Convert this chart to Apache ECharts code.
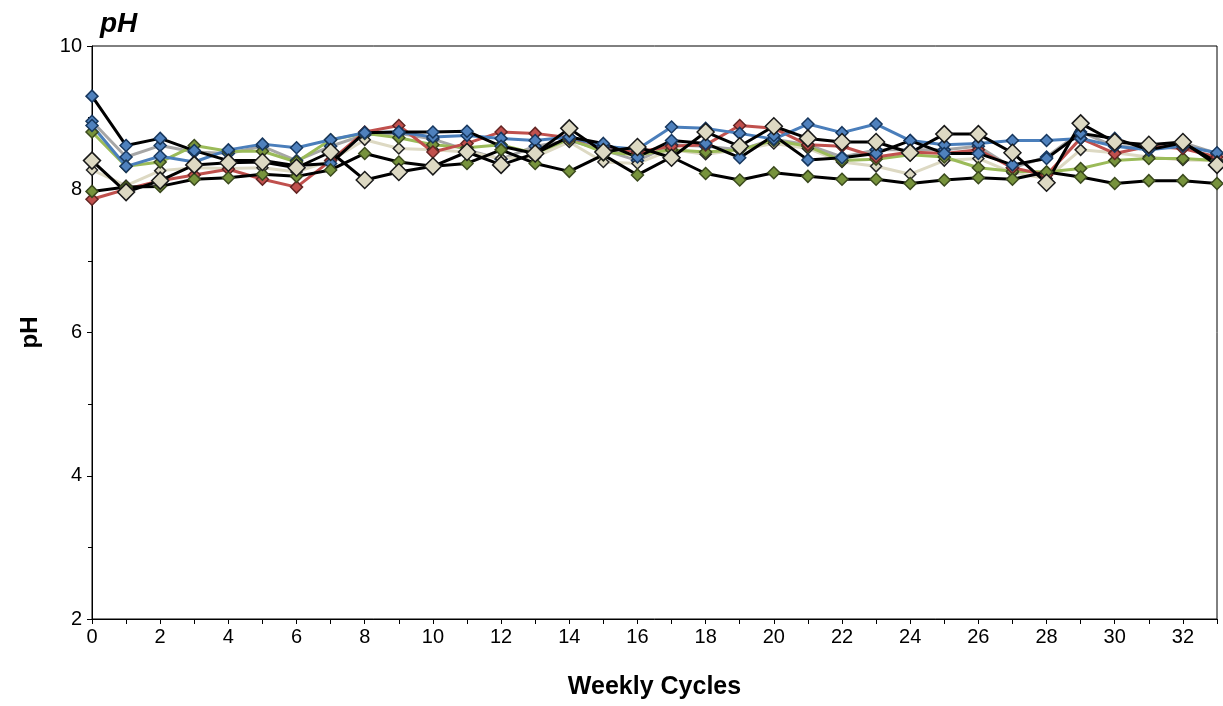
<!DOCTYPE html>
<html>
<head>
<meta charset="utf-8">
<script src="https://cdn.jsdelivr.net/npm/echarts@6/dist/echarts.min.js"></script>
<style>html,body{margin:0;padding:0;background:#fff}#c{width:1223px;height:706px}</style>
</head>
<body>
<div id="c"></div>
<script>
var weeks = [0,1,2,3,4,5,6,7,8,9,10,11,12,13,14,15,16,17,18,19,20,21,22,23,24,25,26,27,28,29,30,31,32,33];
var yTicks = [2,4,6,8,10];

var blueLine  = [8.89,8.32,8.46,8.38,8.55,8.63,8.58,8.69,8.79,8.80,8.73,8.75,8.71,8.68,8.73,8.60,8.56,8.87,8.85,8.78,8.70,8.91,8.79,8.91,8.68,8.62,8.64,8.68,8.68,8.71,8.60,8.55,8.60,8.51];
var redLine   = [7.86,8.00,8.12,8.20,8.28,8.14,8.03,8.40,8.80,8.89,8.52,8.64,8.80,8.78,8.72,8.60,8.52,8.60,8.62,8.89,8.85,8.62,8.60,8.45,8.52,8.50,8.55,8.30,8.20,8.71,8.50,8.60,8.57,8.45];
var greenLine = [8.80,8.32,8.38,8.61,8.53,8.53,8.38,8.69,8.78,8.72,8.62,8.58,8.62,8.50,8.70,8.52,8.48,8.55,8.52,8.55,8.68,8.60,8.40,8.42,8.48,8.45,8.30,8.25,8.24,8.29,8.40,8.43,8.43,8.40];
var greyLine  = [8.95,8.45,8.61,8.52,8.50,8.60,8.40,8.60,8.76,8.78,8.70,8.55,8.42,8.60,8.68,8.55,8.40,8.62,8.60,8.55,8.70,8.62,8.45,8.55,8.55,8.55,8.60,8.30,8.45,8.80,8.60,8.58,8.65,8.50];
var beigeLine = [8.27,8.05,8.26,8.30,8.29,8.30,8.24,8.40,8.69,8.57,8.55,8.52,8.43,8.45,8.66,8.38,8.36,8.55,8.49,8.55,8.64,8.57,8.38,8.32,8.21,8.40,8.43,8.23,8.15,8.55,8.51,8.45,8.41,8.40];
var blackBlue  = [9.30,8.61,8.71,8.54,8.40,8.40,8.33,8.36,8.79,8.80,8.80,8.81,8.60,8.50,8.73,8.64,8.45,8.68,8.64,8.44,8.75,8.41,8.44,8.50,8.68,8.50,8.50,8.34,8.43,8.78,8.71,8.55,8.65,8.38];
var blackGreen = [7.97,8.03,8.04,8.14,8.16,8.21,8.18,8.27,8.50,8.38,8.32,8.36,8.55,8.36,8.25,8.48,8.20,8.45,8.22,8.13,8.23,8.18,8.14,8.14,8.08,8.13,8.16,8.14,8.24,8.17,8.08,8.12,8.12,8.08];
var blackBeige = [8.40,7.96,8.12,8.34,8.37,8.38,8.30,8.52,8.13,8.24,8.32,8.52,8.34,8.50,8.85,8.52,8.59,8.44,8.80,8.60,8.88,8.71,8.66,8.66,8.51,8.77,8.77,8.51,8.09,8.92,8.66,8.62,8.66,8.34];

function pts(arr){ return weeks.map(function(w,i){ return [w, arr[i]]; }); }

function mk(name, data, lineColor, fill, border, size){
  return {
    name: name, type: 'line', data: pts(data),
    symbol: 'diamond', symbolSize: size,
    lineStyle: {color: lineColor, width: 3},
    itemStyle: {color: fill, borderColor: border, borderWidth: 1.5},
    emphasis: {disabled: true}, animation: false, z: 2
  };
}

var series = [
  mk('A', greyLine,  '#A6A6A6', '#4F81BD', '#17375E', 12),
  mk('B', beigeLine, '#DDD9C3', '#DDD9C3', '#262626', 11),
  mk('C', greenLine, '#9BBB59', '#77933C', '#3B4A1E', 12),
  mk('D', redLine,   '#C0504D', '#C0504D', '#632523', 12),
  mk('E', blueLine,  '#4A7EBB', '#4F81BD', '#17375E', 12),
  mk('F', blackBlue, '#000000', '#4F81BD', '#17375E', 12),
  mk('G', blackGreen,'#000000', '#77933C', '#3B4A1E', 12),
  mk('H', blackBeige,'#000000', '#DDD9C3', '#1A1A1A', 17)
];

var chart = echarts.init(document.getElementById('c'), null, {renderer: 'canvas'});
chart.setOption({
  animation: false,
  backgroundColor: '#fff',
  title: {text: 'pH', left: 95, top: 5, textStyle: {fontFamily: 'Liberation Sans', fontSize: 28, fontWeight: 'bold', fontStyle: 'italic', color: '#000'}},
  grid: {left: 92, right: 6, top: 46, bottom: 87, show: true, borderColor: '#000', borderWidth: 1, backgroundColor: 'transparent'},
  xAxis: {
    type: 'value', min: 0, max: 33, interval: 1,
    name: 'Weekly Cycles', nameLocation: 'middle', nameGap: 56,
    nameTextStyle: {fontFamily: 'Liberation Sans', fontSize: 25, fontWeight: 'bold', color: '#000'},
    axisLine: {lineStyle: {color: '#000', width: 1}},
    axisTick: {show: true, length: 5, lineStyle: {color: '#000'}},
    splitLine: {show: false},
    axisLabel: {fontFamily: 'Liberation Sans', fontSize: 20, color: '#000', margin: 8,
      formatter: function(v){ return (v % 2 === 0) ? String(v) : ''; }}
  },
  yAxis: {
    type: 'value', min: 2, max: 10, interval: 2,
    name: 'pH', nameLocation: 'middle', nameGap: 50, nameRotate: 90,
    nameTextStyle: {fontFamily: 'Liberation Sans', fontSize: 24, fontWeight: 'bold', color: '#000'},
    axisLine: {show: true, lineStyle: {color: '#000', width: 1}},
    axisTick: {show: true, length: 5, lineStyle: {color: '#000'}},
    minorTick: {show: true, splitNumber: 2, length: 4, lineStyle: {color: '#000'}},
    splitLine: {show: false},
    axisLabel: {fontFamily: 'Liberation Sans', fontSize: 20, color: '#000', margin: 10,
      formatter: function(v){ return yTicks.indexOf(v) >= 0 ? String(v) : ''; }}
  },
  series: series
});
</script>
</body>
</html>
